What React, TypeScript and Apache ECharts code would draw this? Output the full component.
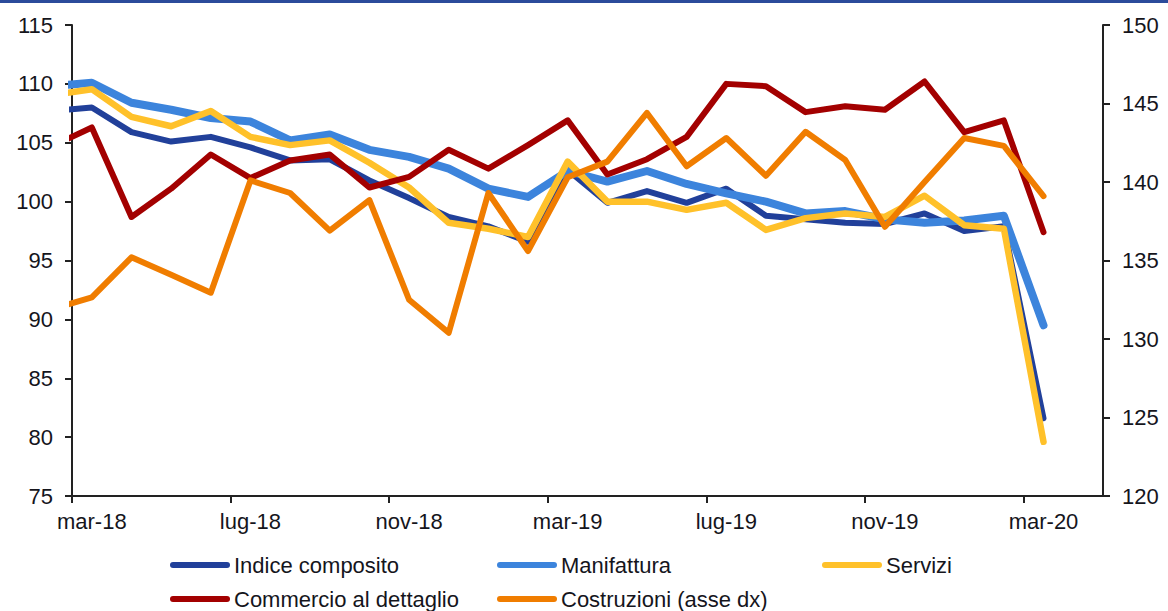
import React, { useEffect, useRef } from "react";
import * as echarts from "echarts";

const months = [
  "feb-18", "mar-18", "apr-18", "mag-18", "giu-18", "lug-18", "ago-18", "set-18", "ott-18", "nov-18", "dic-18",
  "gen-19", "feb-19", "mar-19", "apr-19", "mag-19", "giu-19", "lug-19", "ago-19", "set-19", "ott-19", "nov-19", "dic-19",
  "gen-20", "feb-20", "mar-20",
];
const tickLabels = ["mar-18", "lug-18", "nov-18", "mar-19", "lug-19", "nov-19", "mar-20"];

const indiceComposito = [107.7, 108.0, 105.9, 105.1, 105.5, 104.6, 103.5, 103.6, 101.8, 100.3, 98.7, 97.9, 96.6, 102.7, 99.9, 100.9, 99.9, 101.1, 98.8, 98.5, 98.2, 98.1, 99.0, 97.5, 97.9, 81.6];
const manifattura = [109.8, 110.1, 108.4, 107.8, 107.1, 106.8, 105.2, 105.7, 104.4, 103.8, 102.8, 101.1, 100.4, 102.6, 101.7, 102.6, 101.5, 100.7, 100.0, 99.0, 99.2, 98.5, 98.2, 98.4, 98.8, 89.5];
const servizi = [109.05, 109.55, 107.2, 106.4, 107.7, 105.5, 104.8, 105.2, 103.3, 101.2, 98.2, 97.7, 97.0, 103.4, 100.0, 100.0, 99.3, 99.9, 97.6, 98.6, 99.0, 98.7, 100.5, 98.0, 97.7, 79.6];
const commercio = [104.7, 106.3, 98.7, 101.1, 104.0, 102.0, 103.5, 104.0, 101.2, 102.1, 104.4, 102.8, 104.8, 106.9, 102.3, 103.6, 105.5, 110.0, 109.8, 107.6, 108.1, 107.8, 110.2, 105.9, 106.9, 97.4];
const costruzioni = [131.9, 132.65, 135.2, 134.1, 132.95, 140.1, 139.3, 136.9, 138.85, 132.5, 130.4, 139.3, 135.6, 140.3, 141.3, 144.4, 141.0, 142.8, 140.4, 143.2, 141.4, 137.15, 140.0, 142.8, 142.3, 139.1];

const seriesNames = ["Indice composito", "Manifattura", "Servizi", "Commercio al dettaglio", "Costruzioni (asse dx)"];
const colors = ["#21409A", "#3C84DC", "#FFC12A", "#A30000", "#F07D00"];
const widths = [6, 8, 6.5, 6, 6];

const FONT = "'Liberation Sans', Arial, sans-serif";
const TEXT = "#15151c";

export default function App() {
  const ref = useRef<HTMLDivElement>(null);
  useEffect(() => {
    if (!ref.current) return;
    const chart = echarts.init(ref.current, null, { renderer: "svg" });
    // each month is drawn at the middle of its slot; index 0 (feb-18) falls left of the axis and is clipped
    const toPoints = (arr: number[]) => arr.map((v, i) => [i - 0.5, v]);
    const all = [indiceComposito, manifattura, servizi, commercio, costruzioni];
    const tickPos = tickLabels.map((_, i) => i * 4);
    const labelPos = tickLabels.map((_, i) => i * 4 + 0.5);
    const icon = "path://M3,0L57,0A3,3,0,0,1,57,6L3,6A3,3,0,0,1,3,0Z";
    const legendPos = [
      [170, 554], [497, 554], [822, 554], [170, 588], [497, 588],
    ];
    chart.setOption({
      animation: false,
      graphic: [
        { type: "rect", left: 0, top: 0, shape: { width: 1168, height: 3 }, style: { fill: "#2B4B9B" } },
      ],
      grid: { left: 72, right: 65, top: 25, bottom: 115 },
      xAxis: {
        type: "value",
        min: 0,
        max: 26,
        interval: 4,
        axisLine: { show: true, onZero: false, lineStyle: { color: "#222", width: 2 } },
        axisTick: { show: true, length: 7, customValues: tickPos, lineStyle: { color: "#222", width: 2 } },
        axisLabel: {
          customValues: labelPos,
          formatter: (v: number) => tickLabels[Math.round((v - 0.5) / 4)] ?? "",
          fontFamily: FONT, fontSize: 22, color: TEXT, margin: 14,
        },
        splitLine: { show: false },
      },
      yAxis: [
        {
          type: "value", min: 75, max: 115, interval: 5, position: "left",
          axisLine: { show: true, lineStyle: { color: "#222", width: 2 } },
          axisTick: { show: true, length: 7, lineStyle: { color: "#222", width: 2 } },
          axisLabel: { fontFamily: FONT, fontSize: 22, color: TEXT, margin: 19 },
          splitLine: { show: false },
        },
        {
          type: "value", min: 120, max: 150, interval: 5, position: "right",
          axisLine: { show: true, lineStyle: { color: "#222", width: 2 } },
          axisTick: { show: true, length: 7, lineStyle: { color: "#222", width: 2 } },
          axisLabel: { fontFamily: FONT, fontSize: 22, color: TEXT, margin: 19 },
          splitLine: { show: false },
        },
      ],
      legend: seriesNames.map((name, i) => ({
        data: [name],
        left: legendPos[i][0],
        top: legendPos[i][1],
        padding: 0,
        icon,
        itemWidth: 60,
        itemHeight: 6,
        itemGap: 4,
        textStyle: { fontFamily: FONT, fontSize: 22, color: TEXT, padding: [0, 0, 0, -1] },
      })),
      series: seriesNames.map((name, i) => ({
        name,
        type: "line",
        yAxisIndex: i === 4 ? 1 : 0,
        data: toPoints(all[i]),
        symbol: "none",
        clip: true,
        color: colors[i],
        lineStyle: { color: colors[i], width: widths[i], join: "round", cap: "round" },
        z: 2 + i,
      })),
    });
    return () => chart.dispose();
  }, []);
  return (
    <div
      ref={ref}
      style={{ position: "fixed", left: 0, top: 0, width: 1168, height: 611, background: "#fff" }}
    />
  );
}
